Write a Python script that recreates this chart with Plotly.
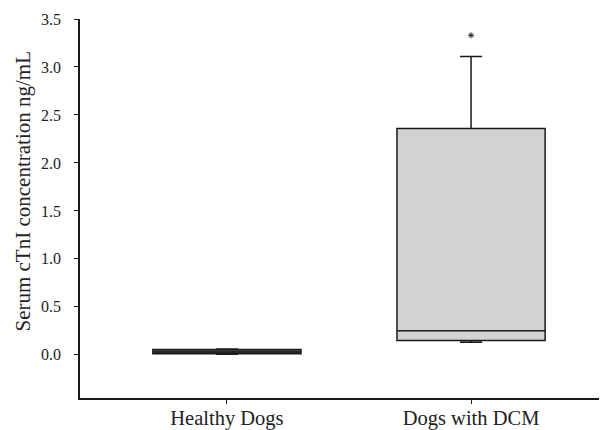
import plotly.graph_objects as go

categories = ["Healthy Dogs", "Dogs with DCM"]
q1 = [0.01, 0.15]
median = [0.03, 0.25]
q3 = [0.055, 2.36]
lower = [0.005, 0.13]
upper = [0.06, 3.11]
outlier_cat = ["Dogs with DCM"]
outlier_val = [3.33]
fills = ["#4a4a4a", "#d1d2d4"]

y_ticks = [0.0, 0.5, 1.0, 1.5, 2.0, 2.5, 3.0, 3.5]
y_title = "Serum cTnI concentration ng/mL"

fig = go.Figure()
for i, c in enumerate(categories):
    fig.add_trace(go.Box(
        x=[c], q1=[q1[i]], median=[median[i]], q3=[q3[i]],
        lowerfence=[lower[i]], upperfence=[upper[i]],
        fillcolor=fills[i], line=dict(color="#1a1a1a", width=1.5),
        width=0.607, whiskerwidth=0.15, boxpoints=False, showlegend=False,
    ))
fig.add_trace(go.Scatter(
    x=outlier_cat, y=outlier_val, mode="markers",
    marker=dict(symbol="asterisk-open", size=5, color="#222", line=dict(color="#222", width=1)),
    showlegend=False,
))

serif = "Liberation Serif, Times New Roman, serif"
fig.update_layout(
    width=599, height=422,
    margin=dict(l=72, r=0, t=11, b=32),
    plot_bgcolor="white", paper_bgcolor="white",
    font=dict(family=serif, size=16, color="#222"),
    xaxis=dict(
        type="category", categoryorder="array", categoryarray=categories,
        range=[-0.602, 1.557], showline=True, linecolor="#1a1a1a", linewidth=1.5,
        ticks="outside", ticklen=4, tickcolor="#1a1a1a", showgrid=False, zeroline=False,
        tickfont=dict(family=serif, size=20.5, color="#222"), automargin=False,
        ticklabelstandoff=-3,
    ),
    yaxis=dict(
        range=[-0.45, 3.5], tickvals=y_ticks, ticktext=[f"{v:.1f}" for v in y_ticks],
        showline=True, linecolor="#1a1a1a", linewidth=1.5,
        ticks="outside", ticklen=4, tickcolor="#1a1a1a", showgrid=False, zeroline=False,
        tickfont=dict(family=serif, size=16, color="#222"),
        ticklabelstandoff=10, automargin=False,
    ),
    annotations=[dict(
        text=y_title, xref="paper", yref="paper", x=-0.108, y=0.545,
        xanchor="center", yanchor="middle", textangle=-90, showarrow=False,
        font=dict(family=serif, size=21, color="#222"),
    )],
)
fig.write_html("out.html")
